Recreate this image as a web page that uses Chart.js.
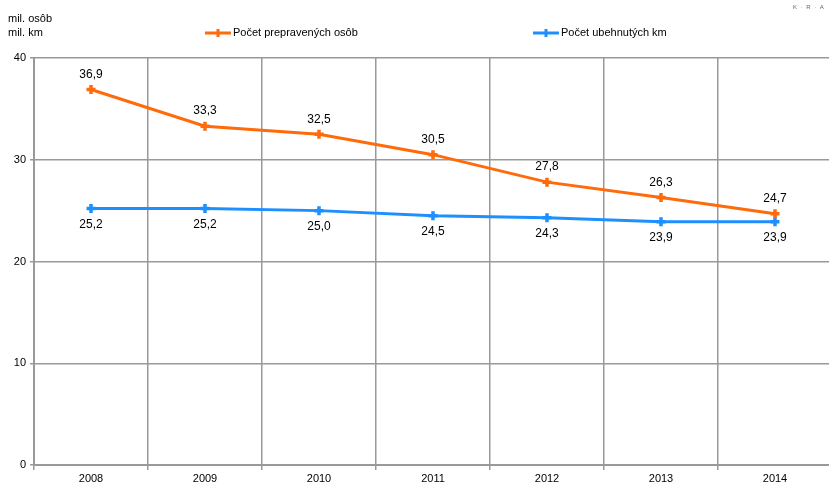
<!DOCTYPE html>
<html>
<head>
<meta charset="utf-8">
<script src="https://cdn.jsdelivr.net/npm/chart.js@4"></script>
<style>
  html, body { margin: 0; padding: 0; background: #fff; overflow: hidden; }
  #wrap { position: relative; width: 840px; height: 485px; }
  .lbl { position: absolute; font-family: "Liberation Sans", Arial, sans-serif; font-size: 11px; color: #000; line-height: 14px; }
</style>
</head>
<body>
<div id="wrap">
  <canvas id="chart1" width="840" height="485"></canvas>
  <div class="lbl" style="left:8px; top:11px;">mil. osôb<br>mil. km</div>
  <div class="lbl" style="left:793px; top:0px; font-size:6px; color:#666; letter-spacing:1px;">K · R · A</div>
</div>
<script>
// DATA
const roky = ['2008', '2009', '2010', '2011', '2012', '2013', '2014'];
const osoby = [36.9, 33.3, 32.5, 30.5, 27.8, 26.3, 24.7];
const km = [25.2, 25.2, 25.0, 24.5, 24.3, 23.9, 23.9];
const yTicks = [0, 10, 20, 30, 40];

const farbaOsoby = '#ff6a0a';
const farbaKm = '#1e8fff';
const pismo = { family: '"Liberation Sans", Arial, sans-serif', size: 11 };

// hodnoty nad / pod bodmi
const popisky = {
  id: 'popisky',
  afterDatasetsDraw(chart) {
    const c = chart.ctx;
    c.save();
    c.font = '12px "Liberation Sans", Arial, sans-serif';
    c.fillStyle = '#000';
    c.textAlign = 'center';
    chart.data.datasets.forEach((ds, i) => {
      const meta = chart.getDatasetMeta(i);
      meta.data.forEach((pt, j) => {
        const txt = ds.data[j].toFixed(1).replace('.', ',');
        if (i === 0) {
          c.textBaseline = 'bottom';
          c.fillText(txt, pt.x, pt.y - 9);
        } else {
          c.textBaseline = 'top';
          c.fillText(txt, pt.x, pt.y + 10);
        }
      });
    });
    c.restore();
  }
};

// legenda
const legenda = {
  id: 'legenda',
  afterDraw(chart) {
    const c = chart.ctx;
    const pozicie = [205, 533];
    c.save();
    c.font = '11px "Liberation Sans", Arial, sans-serif';
    c.textBaseline = 'middle';
    c.textAlign = 'left';
    chart.data.datasets.forEach((ds, i) => {
      const x = pozicie[i], y = 33;
      c.strokeStyle = ds.borderColor;
      c.lineWidth = 3;
      c.beginPath();
      c.moveTo(x, y);
      c.lineTo(x + 26, y);
      c.moveTo(x + 13, y - 4);
      c.lineTo(x + 13, y + 4);
      c.stroke();
      c.fillStyle = '#000';
      c.fillText(ds.label, x + 28, y);
    });
    c.restore();
  }
};

const ctx1 = document.getElementById('chart1').getContext('2d');
new Chart(ctx1, {
  type: 'line',
  data: {
    labels: roky,
    datasets: [{
      label: 'Počet prepravených osôb',
      data: osoby,
      borderColor: farbaOsoby,
      backgroundColor: farbaOsoby,
      borderWidth: 3,
      pointStyle: 'cross',
      pointRadius: 4.5,
      pointBorderWidth: 3.5,
      fill: false
    }, {
      label: 'Počet ubehnutých km',
      data: km,
      borderColor: farbaKm,
      backgroundColor: farbaKm,
      borderWidth: 3,
      pointStyle: 'cross',
      pointRadius: 4.5,
      pointBorderWidth: 3.5,
      fill: false
    }]
  },
  options: {
    responsive: false,
    animation: false,
    layout: { padding: { top: 58, right: 8, left: 0, bottom: 0 } },
    plugins: {
      legend: { display: false },
      tooltip: { enabled: false }
    },
    scales: {
      x: {
        offset: true,
        afterFit(s) { s.height = 20; },
        grid: { offset: true, color: '#999', lineWidth: 1.5, tickLength: 5 },
        border: { color: '#999', width: 2 },
        ticks: { color: '#000', font: pismo, padding: 2 }
      },
      y: {
        min: 0,
        max: 40,
        afterFit(s) { s.width = 34; },
        afterBuildTicks(s) { s.ticks = yTicks.map(v => ({ value: v })); },
        grid: { color: '#999', lineWidth: 1.5, tickLength: 4 },
        border: { color: '#999', width: 2 },
        ticks: { color: '#000', font: pismo, padding: 4 }
      }
    }
  },
  plugins: [popisky, legenda]
});
</script>
</body>
</html>
